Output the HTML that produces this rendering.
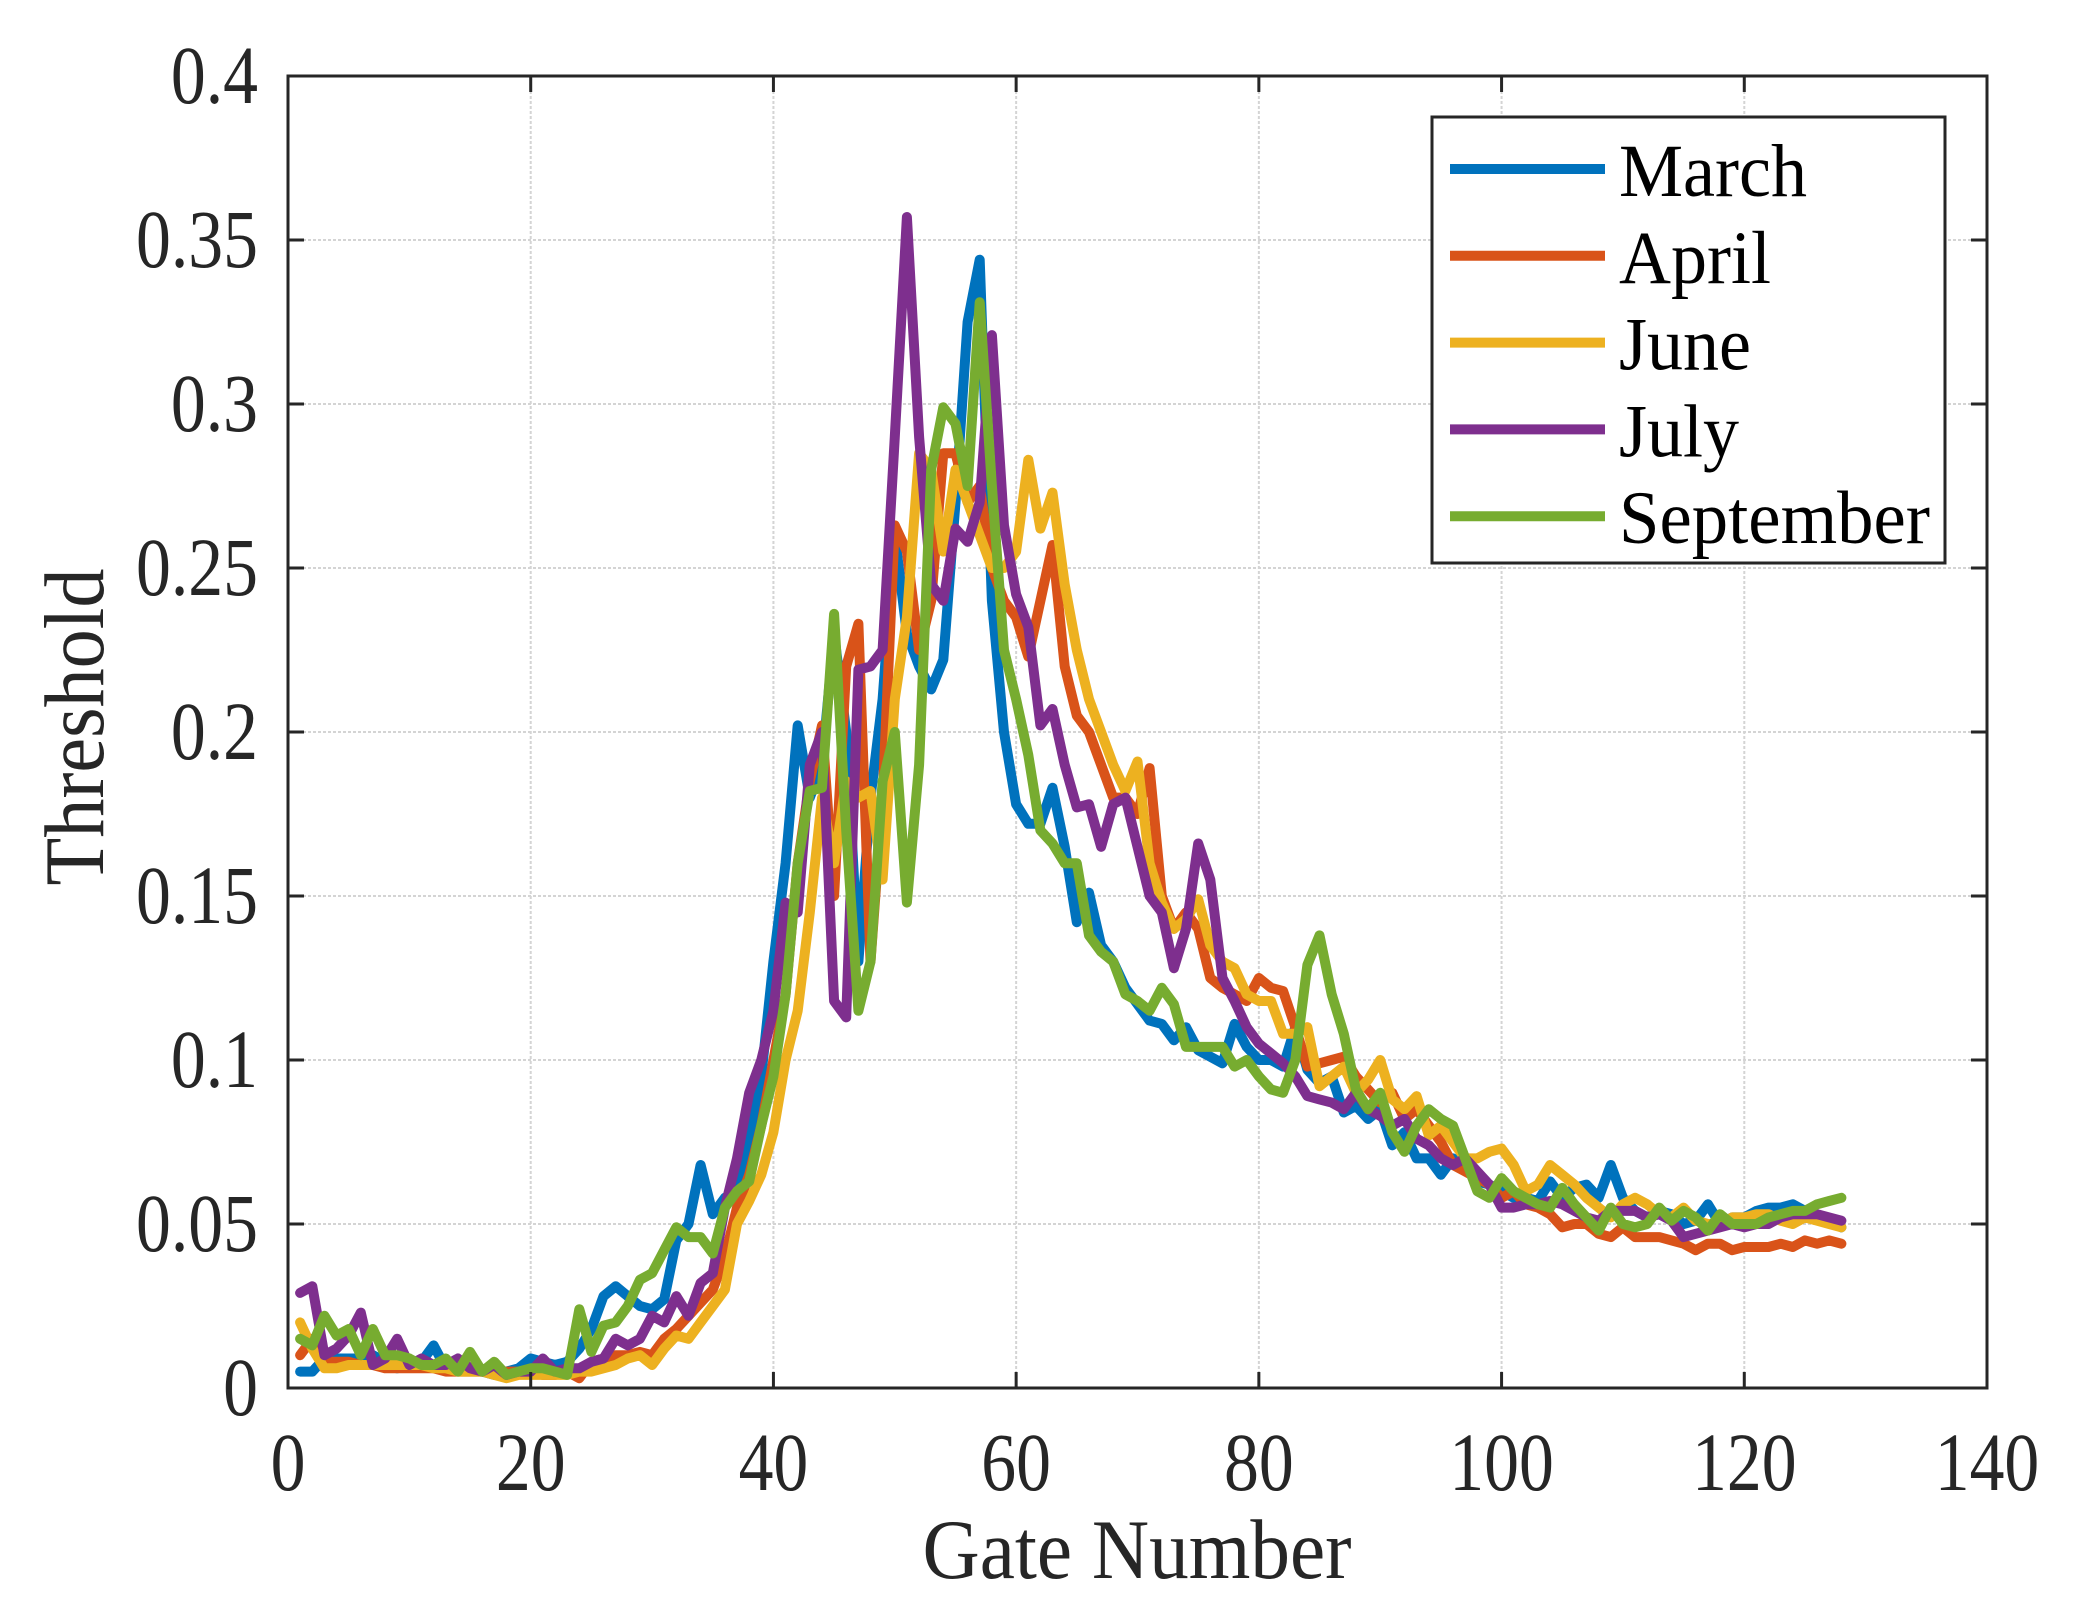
<!DOCTYPE html>
<html><head><meta charset="utf-8"><style>
html,body{margin:0;padding:0;background:#fff;}
svg{display:block;}
text{font-family:"Liberation Serif",serif;fill:#262626;}
</style></head><body>
<svg id="s" width="2073" height="1614" xmlns="http://www.w3.org/2000/svg">
<rect width="2073" height="1614" fill="#fff"/>
<g id="grid"></g>
<g id="series" fill="none" stroke-width="10" stroke-linejoin="round" stroke-linecap="round"></g>
<rect x="288" y="76" width="1699" height="1312" fill="none" stroke="#262626" stroke-width="3"/>
<g id="ticks"></g>
<text x="1137" y="1578" font-size="85" text-anchor="middle" textLength="429" lengthAdjust="spacingAndGlyphs">Gate Number</text>
<text transform="translate(103,727) rotate(-90)" font-size="85" text-anchor="middle" textLength="317" lengthAdjust="spacingAndGlyphs">Threshold</text>
<g id="legend">
<rect x="1432" y="117" width="513" height="446" fill="#fff" stroke="#262626" stroke-width="3"/>
</g>
</svg>
<script>
const X0=288,X1=1987,Y0=1388,Y1=76;
const px=g=>X0+g*(X1-X0)/140, py=v=>Y0-v*(Y0-Y1)/0.4;
const NS="http://www.w3.org/2000/svg";
function el(t,a,p,txt){const e=document.createElementNS(NS,t);for(const k in a)e.setAttribute(k,a[k]);if(txt!==undefined)e.textContent=txt;p.appendChild(e);return e;}
const grid=document.getElementById('grid'),ticks=document.getElementById('ticks');
for(let g=0;g<=140;g+=20){const x=px(g);
 if(g>0&&g<140)el('line',{x1:x,y1:Y1,x2:x,y2:Y0,stroke:'#d4d4d4','stroke-width':2,'stroke-dasharray':'3,2'},grid);
 el('line',{x1:x,y1:Y0,x2:x,y2:Y0-16,stroke:'#262626','stroke-width':3},ticks);
 el('line',{x1:x,y1:Y1,x2:x,y2:Y1+16,stroke:'#262626','stroke-width':3},ticks);
 el('text',{'font-size':83,'text-anchor':'middle',transform:`translate(${x},1490) scale(0.84,1)`},ticks,String(g));
}
const yl=['0','0.05','0.1','0.15','0.2','0.25','0.3','0.35','0.4'];
for(let i=0;i<=8;i++){const v=i*0.05,y=py(v);
 if(i>0&&i<8)el('line',{x1:X0,y1:y,x2:X1,y2:y,stroke:'#d4d4d4','stroke-width':2,'stroke-dasharray':'3,2'},grid);
 el('line',{x1:X0,y1:y,x2:X0+16,y2:y,stroke:'#262626','stroke-width':3},ticks);
 el('line',{x1:X1,y1:y,x2:X1-16,y2:y,stroke:'#262626','stroke-width':3},ticks);
 el('text',{'font-size':83,'text-anchor':'end',transform:`translate(258,${y+27}) scale(0.84,1)`},ticks,yl[i]);
}
const D={
'#0072BD':[.005,.005,.009,.009,.009,.009,.01,.008,.006,.007,.008,.013,.006,.006,.006,.005,.004,.005,.006,.009,.008,.007,.008,.012,.018,.028,.031,.028,.025,.024,.027,.045,.05,.068,.053,.058,.06,.075,.095,.13,.16,.202,.18,.19,.23,.2,.13,.18,.21,.26,.23,.22,.213,.222,.27,.325,.344,.24,.2,.178,.172,.172,.183,.165,.142,.151,.135,.13,.122,.117,.112,.111,.106,.11,.103,.101,.099,.111,.104,.1,.1,.098,.11,.097,.093,.095,.084,.086,.082,.085,.074,.078,.07,.07,.065,.07,.068,.063,.062,.06,.058,.058,.057,.063,.058,.061,.062,.058,.068,.058,.054,.052,.054,.053,.05,.051,.056,.05,.052,.052,.054,.055,.055,.056,.054,.052,.051,.049],
'#D95319':[.01,.015,.008,.008,.008,.007,.007,.006,.006,.006,.006,.006,.005,.005,.005,.005,.005,.005,.005,.005,.004,.004,.005,.003,.008,.009,.01,.01,.011,.01,.015,.018,.022,.026,.03,.04,.055,.065,.08,.1,.12,.16,.185,.202,.15,.22,.233,.13,.18,.263,.255,.225,.24,.285,.285,.27,.275,.25,.24,.235,.223,.24,.257,.22,.205,.2,.19,.18,.18,.175,.189,.15,.14,.145,.14,.125,.122,.12,.118,.125,.122,.121,.11,.098,.099,.1,.101,.095,.091,.087,.09,.082,.085,.08,.075,.068,.066,.064,.062,.058,.06,.056,.055,.053,.049,.05,.05,.047,.046,.049,.046,.046,.046,.045,.044,.042,.044,.044,.042,.043,.043,.043,.044,.043,.045,.044,.045,.044],
'#EDB120':[.02,.012,.006,.006,.007,.007,.007,.007,.007,.007,.007,.006,.006,.005,.005,.005,.004,.003,.004,.004,.004,.004,.004,.005,.005,.006,.007,.009,.01,.007,.012,.016,.015,.02,.025,.03,.05,.057,.065,.078,.1,.115,.145,.18,.16,.185,.18,.182,.155,.21,.235,.285,.28,.255,.28,.27,.26,.25,.25,.255,.283,.262,.273,.245,.225,.21,.2,.19,.182,.191,.16,.148,.14,.143,.149,.135,.13,.128,.12,.118,.118,.108,.108,.11,.092,.095,.098,.09,.094,.1,.088,.085,.089,.077,.08,.075,.07,.07,.072,.073,.068,.06,.062,.068,.065,.062,.058,.055,.052,.056,.058,.056,.053,.052,.055,.051,.05,.05,.052,.052,.053,.053,.051,.05,.052,.051,.05,.049],
'#7E2F8E':[.029,.031,.01,.012,.016,.023,.007,.009,.015,.007,.009,.007,.007,.009,.006,.005,.007,.004,.005,.005,.009,.005,.006,.006,.008,.009,.015,.013,.015,.022,.02,.028,.022,.032,.035,.055,.07,.09,.1,.115,.148,.145,.19,.2,.118,.113,.219,.22,.225,.29,.357,.29,.245,.24,.262,.258,.27,.321,.263,.242,.232,.202,.207,.19,.177,.178,.165,.178,.18,.165,.15,.145,.128,.14,.166,.155,.125,.118,.11,.105,.102,.099,.095,.089,.088,.087,.085,.09,.085,.083,.08,.082,.076,.074,.07,.068,.07,.066,.062,.055,.055,.056,.056,.057,.056,.054,.052,.051,.054,.054,.054,.052,.053,.051,.046,.047,.048,.049,.05,.049,.05,.05,.052,.053,.053,.053,.052,.051],
'#77AC30':[.015,.013,.022,.016,.018,.01,.018,.01,.01,.009,.007,.007,.009,.005,.011,.005,.008,.004,.005,.006,.006,.005,.004,.024,.011,.019,.02,.025,.033,.035,.042,.049,.046,.046,.041,.055,.06,.063,.08,.095,.12,.16,.182,.183,.236,.17,.115,.13,.185,.2,.148,.19,.28,.299,.294,.275,.331,.275,.225,.21,.193,.17,.166,.16,.16,.138,.133,.13,.12,.118,.115,.122,.117,.104,.104,.104,.104,.098,.1,.095,.091,.09,.1,.129,.138,.12,.108,.091,.085,.09,.078,.072,.08,.085,.082,.08,.07,.06,.058,.064,.06,.058,.056,.055,.061,.056,.052,.048,.055,.05,.049,.05,.055,.051,.054,.052,.048,.053,.05,.05,.05,.052,.053,.054,.054,.056,.057,.058]
};
const ser=document.getElementById('series'),leg=document.getElementById('legend');
const names=['March','April','June','July','September'];const widths=[188,152,132,120,311];let i=0;
for(const c in D){
 el('polyline',{points:D[c].map((v,k)=>px(k+1).toFixed(1)+','+py(v).toFixed(1)).join(' '),stroke:c},ser);
 const ry=169+i*86.8;
 el('line',{x1:1450,y1:ry,x2:1605,y2:ry,stroke:c,'stroke-width':10},leg);
 el('text',{'font-size':75,x:1619,y:ry+27,textLength:widths[i],lengthAdjust:'spacingAndGlyphs',style:'fill:#000'},leg,names[i]);
 i++;
}
</script>
</body></html>
